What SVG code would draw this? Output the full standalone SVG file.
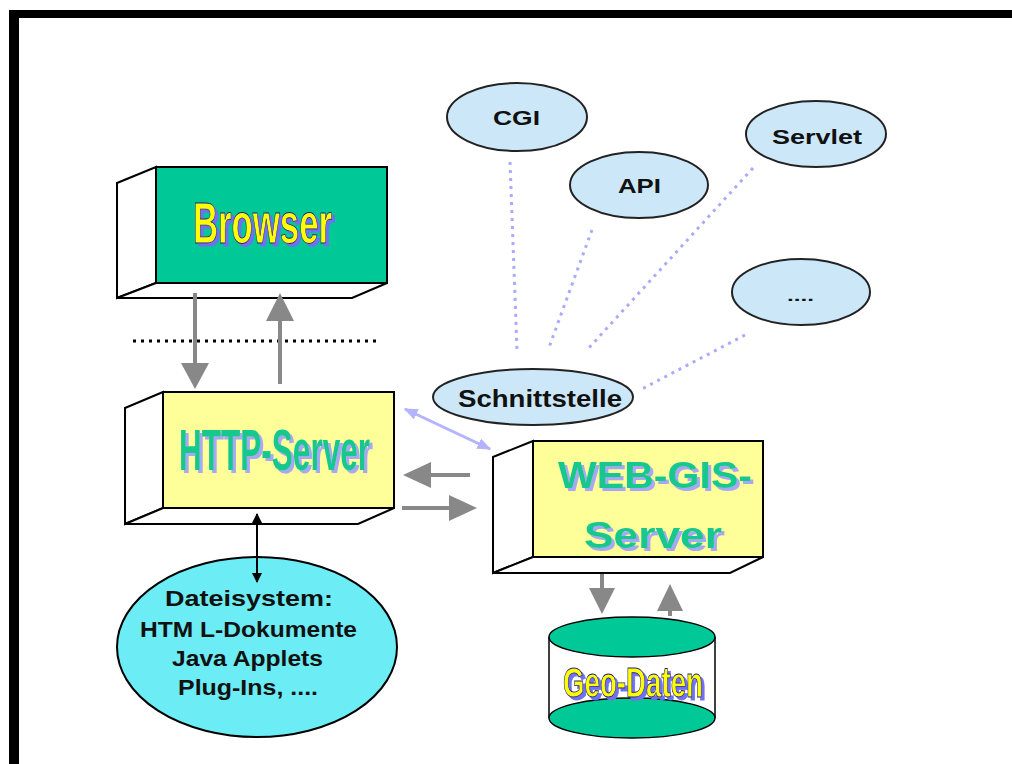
<svg xmlns="http://www.w3.org/2000/svg" width="1012" height="764" viewBox="0 0 1012 764">
  <style>
    .face { stroke: #000; stroke-width: 2; stroke-linejoin: miter; }
    .side { fill: #fff; stroke: #000; stroke-width: 2; }
    .big { font-family: "Liberation Sans", Arial, sans-serif; font-weight: bold; }
    .yel { fill: #ffff00; stroke: #1a1a80; stroke-width: 0.8; filter: url(#shBlue); }
    .grn { fill: #14c88e; filter: url(#shLav); }
    .lbl { font-family: "Liberation Sans", Arial, sans-serif; font-weight: bold; fill: #111; }
    .bubble { fill: #cce8f8; stroke: #222; stroke-width: 2; }
    .dots { stroke: #aaaaff; stroke-width: 3; stroke-dasharray: 3 5; fill: none; }
    .grayline { stroke: #888; stroke-width: 4; fill: none; }
    .grayhead { fill: #888; }
  </style>
  <defs>
    <!-- drop shadows for the large labels -->
    <filter id="shBlue" x="-10%" y="-20%" width="130%" height="150%">
      <feFlood flood-color="#6f6ff0" result="c"/>
      <feComposite in="c" in2="SourceAlpha" operator="in" result="s"/>
      <feOffset in="s" dx="3" dy="3" result="o"/>
      <feMerge><feMergeNode in="o"/><feMergeNode in="SourceGraphic"/></feMerge>
    </filter>
    <filter id="shLav" x="-10%" y="-20%" width="130%" height="150%">
      <feFlood flood-color="#a7a7f5" result="c"/>
      <feComposite in="c" in2="SourceAlpha" operator="in" result="s"/>
      <feOffset in="s" dx="3" dy="3" result="o"/>
      <feMerge><feMergeNode in="o"/><feMergeNode in="SourceGraphic"/></feMerge>
    </filter>
    <marker id="blk" viewBox="0 0 10 10" refX="9" refY="5" markerWidth="10" markerHeight="10" markerUnits="userSpaceOnUse" orient="auto-start-reverse">
      <path d="M0,0 L10,5 L0,10 z" fill="#000"/>
    </marker>
    <marker id="lav" viewBox="0 0 10 10" refX="9" refY="5" markerWidth="14" markerHeight="14" markerUnits="userSpaceOnUse" orient="auto-start-reverse">
      <path d="M0,1 L10,5 L0,9 z" fill="#b3b3ff"/>
    </marker>
  </defs>

  <rect width="1012" height="764" fill="#fff"/>
  <!-- frame -->
  <rect x="9" y="10" width="1003" height="8" fill="#000"/>
  <rect x="9" y="10" width="10" height="754" fill="#000"/>

  <!-- Browser -->
  <g id="browser">
    <polygon class="side" points="156,167 117,183 117,298 156,283"/>
    <polygon class="side" points="156,283 117,298 352,298 387,283"/>
    <rect class="face" x="156" y="167" width="231" height="116" fill="#00c896"/>
    <text class="big yel" x="193" y="243" font-size="57" textLength="139" lengthAdjust="spacingAndGlyphs">Browser</text>
  </g>

  <!-- HTTP-Server -->
  <g id="http-server">
    <polygon class="side" points="163,392 125,408 125,524 163,508"/>
    <polygon class="side" points="163,508 125,524 358,524 394,508"/>
    <rect class="face" x="163" y="392" width="231" height="116" fill="#ffff99"/>
    <text class="big grn" x="179" y="470" font-size="58" textLength="191" lengthAdjust="spacingAndGlyphs">HTTP-Server</text>
  </g>

  <!-- WEB-GIS-Server -->
  <g id="webgis-server">
    <polygon class="side" points="533,441 493,457 493,573 533,557"/>
    <polygon class="side" points="533,557 493,573 730,573 763,557"/>
    <rect class="face" x="533" y="441" width="230" height="116" fill="#ffff99"/>
    <text class="big grn" x="558" y="488" font-size="37" textLength="194" lengthAdjust="spacingAndGlyphs">WEB-GIS-</text>
    <text class="big grn" x="584" y="548" font-size="37" textLength="138" lengthAdjust="spacingAndGlyphs">Server</text>
  </g>

  <!-- Geo-Daten -->
  <g id="geo-daten">
    <rect x="549" y="637" width="166" height="81" fill="#fff"/>
    <line x1="549" y1="637" x2="549" y2="718" stroke="#000" stroke-width="1.5"/>
    <line x1="715" y1="637" x2="715" y2="718" stroke="#000" stroke-width="1.5"/>
    <ellipse cx="632" cy="718" rx="83" ry="20" fill="#00c896" stroke="#000" stroke-width="1.5"/>
    <ellipse cx="632" cy="637" rx="83" ry="20" fill="#00c896" stroke="#000" stroke-width="1.5"/>
    <text class="big yel" x="563" y="697" font-size="42" textLength="140" lengthAdjust="spacingAndGlyphs">Geo-Daten</text>
  </g>

  <!-- Dateisystem -->
  <g id="dateisystem">
    <ellipse cx="257" cy="647" rx="140" ry="90" fill="#6cecf4" stroke="#000" stroke-width="2"/>
    <text class="lbl" x="165" y="606" font-size="22" textLength="168" lengthAdjust="spacingAndGlyphs">Dateisystem:</text>
    <text class="lbl" x="140" y="637" font-size="22" textLength="217" lengthAdjust="spacingAndGlyphs">HTM L-Dokumente</text>
    <text class="lbl" x="172" y="666" font-size="22" textLength="151" lengthAdjust="spacingAndGlyphs">Java Applets</text>
    <text class="lbl" x="178" y="695" font-size="22" textLength="140" lengthAdjust="spacingAndGlyphs">Plug-Ins, ....</text>
  </g>

  <!-- interface ellipses -->
  <g id="schnittstelle">
    <ellipse class="bubble" cx="533" cy="397" rx="100" ry="28"/>
    <text class="lbl" x="458" y="407" font-size="24" textLength="164" lengthAdjust="spacingAndGlyphs">Schnittstelle</text>
  </g>
  <g id="cgi">
    <ellipse class="bubble" cx="517" cy="117" rx="70" ry="34"/>
    <text class="lbl" x="493" y="125" font-size="21" textLength="47" lengthAdjust="spacingAndGlyphs">CGI</text>
  </g>
  <g id="api">
    <ellipse class="bubble" cx="639" cy="185" rx="69" ry="33"/>
    <text class="lbl" x="618" y="193" font-size="21" textLength="43" lengthAdjust="spacingAndGlyphs">API</text>
  </g>
  <g id="servlet">
    <ellipse class="bubble" cx="816" cy="134" rx="70" ry="33"/>
    <text class="lbl" x="772" y="144" font-size="21" textLength="90" lengthAdjust="spacingAndGlyphs">Servlet</text>
  </g>
  <g id="more">
    <ellipse class="bubble" cx="801" cy="292" rx="69" ry="33"/>
    <text class="lbl" x="787" y="301" font-size="14" textLength="27" lengthAdjust="spacingAndGlyphs">....</text>
  </g>

  <!-- connectors -->
  <g id="connectors">
    <!-- dotted boundary between client and server -->
    <line x1="133" y1="341" x2="377" y2="341" stroke="#000" stroke-width="3" stroke-dasharray="3 5"/>
    <!-- Browser -> HTTP-Server -->
    <line class="grayline" x1="195" y1="293" x2="195" y2="366"/>
    <polygon class="grayhead" points="181,363 209,363 195,389"/>
    <!-- HTTP-Server -> Browser -->
    <line class="grayline" x1="280" y1="384" x2="280" y2="318"/>
    <polygon class="grayhead" points="266,321 294,321 280,293"/>
    <!-- HTTP-Server <-> Dateisystem -->
    <line x1="257" y1="514" x2="257" y2="582" stroke="#000" stroke-width="2" marker-start="url(#blk)" marker-end="url(#blk)"/>
    <!-- WEB-GIS-Server -> HTTP-Server -->
    <line class="grayline" x1="470" y1="475" x2="428" y2="475"/>
    <polygon class="grayhead" points="431,462 431,488 403,475"/>
    <!-- HTTP-Server -> WEB-GIS-Server -->
    <line class="grayline" x1="402" y1="508" x2="452" y2="508"/>
    <polygon class="grayhead" points="449,495 449,521 477,508"/>
    <!-- HTTP-Server <-> WEB-GIS-Server via Schnittstelle -->
    <line x1="405" y1="409" x2="490" y2="449" stroke="#b3b3ff" stroke-width="3" marker-start="url(#lav)" marker-end="url(#lav)"/>
    <!-- WEB-GIS-Server -> Geo-Daten -->
    <line class="grayline" x1="602" y1="574" x2="602" y2="592"/>
    <polygon class="grayhead" points="589,588 615,588 602,614"/>
    <!-- Geo-Daten -> WEB-GIS-Server -->
    <line class="grayline" x1="670" y1="616" x2="670" y2="608"/>
    <polygon class="grayhead" points="657,611 683,611 670,584"/>
    <!-- interface variants -->
    <line class="dots" x1="510" y1="162" x2="517" y2="350"/>
    <line class="dots" x1="592" y1="230" x2="548" y2="350"/>
    <line class="dots" x1="753" y1="168" x2="587" y2="350"/>
    <line class="dots" x1="745" y1="335" x2="640" y2="390"/>
  </g>
</svg>
